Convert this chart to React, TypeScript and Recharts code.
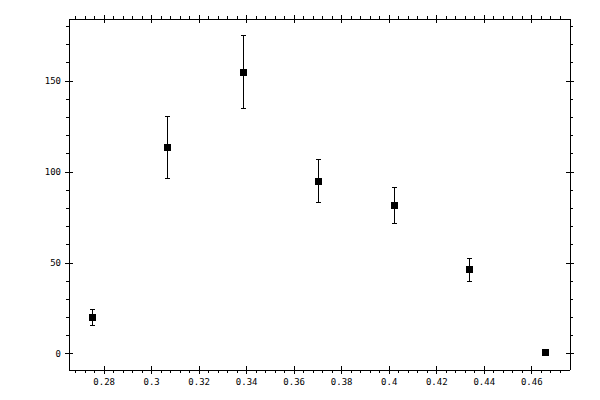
import React from "react";
import { ScatterChart, Scatter, XAxis, YAxis, ErrorBar } from "recharts";

const xValues = [0.275, 0.3068, 0.3386, 0.3704, 0.4022, 0.434, 0.4658];
const yValues = [20.1, 113.6, 154.8, 94.9, 81.7, 46.4, 0.8];
const yErrors = [4.4, 17.0, 20.0, 11.8, 9.9, 6.3, 0];

const xMajorTicks = [0.28, 0.3, 0.32, 0.34, 0.36, 0.38, 0.4, 0.42, 0.44, 0.46];
const xMinorTicks = [
  0.268, 0.272, 0.276, 0.284, 0.288, 0.292, 0.296, 0.304, 0.308, 0.312, 0.316,
  0.324, 0.328, 0.332, 0.336, 0.344, 0.348, 0.352, 0.356, 0.364, 0.368, 0.372,
  0.376, 0.384, 0.388, 0.392, 0.396, 0.404, 0.408, 0.412, 0.416, 0.424, 0.428,
  0.432, 0.436, 0.444, 0.448, 0.452, 0.456, 0.464, 0.468, 0.472,
];
const xTickLabels = ["0.28", "0.3", "0.32", "0.34", "0.36", "0.38", "0.4", "0.42", "0.44", "0.46"];
const yMajorTicks = [0, 50, 100, 150];
const yMinorTicks = [10, 20, 30, 40, 60, 70, 80, 90, 110, 120, 130, 140, 160, 170, 180];
const yTickLabels = ["0", "50", "100", "150"];

const X_DOMAIN: [number, number] = [0.2652, 0.4761];
const Y_DOMAIN: [number, number] = [-8.8, 184.1];

const data = xValues.map((x, i) => ({ x, y: yValues[i], err: yErrors[i] }));
const xTicks = [...xMajorTicks, ...xMinorTicks].sort((a, b) => a - b);
const yTicks = [...yMajorTicks, ...yMinorTicks].sort((a, b) => a - b);

const FONT = "'DejaVu Sans Mono', monospace";

const isMajor = (arr: number[], v: number) => arr.some((m) => Math.abs(m - v) < 1e-9);

const XTick = (side: "bottom" | "top") => (props: any) => {
  const { x, y, payload } = props;
  const v = payload.value;
  const major = isMajor(xMajorTicks, v);
  const dir = side === "bottom" ? 1 : -1;
  const idx = xMajorTicks.findIndex((m) => Math.abs(m - v) < 1e-9);
  return (
    <g>
      {major ? (
        <line x1={x} x2={x} y1={y - 4} y2={y + 4} stroke="#000" shapeRendering="crispEdges" />
      ) : (
        <line x1={x} x2={x} y1={y} y2={y + dir * 3} stroke="#000" shapeRendering="crispEdges" />
      )}
      {major && side === "bottom" ? (
        <text x={x} y={y + 15} textAnchor="middle" fontSize={9} fontFamily={FONT} fill="#000">
          {xTickLabels[idx]}
        </text>
      ) : null}
    </g>
  );
};

const YTick = (side: "left" | "right") => (props: any) => {
  const { x, y, payload } = props;
  const v = payload.value;
  const major = isMajor(yMajorTicks, v);
  const dir = side === "left" ? -1 : 1;
  const idx = yMajorTicks.findIndex((m) => Math.abs(m - v) < 1e-9);
  return (
    <g>
      {major ? (
        <line x1={x - 4} x2={x + 4} y1={y} y2={y} stroke="#000" shapeRendering="crispEdges" />
      ) : (
        <line x1={x} x2={x + dir * 3} y1={y} y2={y} stroke="#000" shapeRendering="crispEdges" />
      )}
      {major && side === "left" ? (
        <text x={x - 8} y={y + 3} textAnchor="end" fontSize={9} fontFamily={FONT} fill="#000">
          {yTickLabels[idx]}
        </text>
      ) : null}
    </g>
  );
};

const SquareShape = (props: any) => {
  const { cx, cy } = props;
  if (cx == null || cy == null) return null;
  return <rect x={cx - 3.5} y={cy - 3.5} width={7} height={7} fill="#000" shapeRendering="crispEdges" />;
};

const NoShape = () => <g />;

const axisCommon = {
  type: "number" as const,
  allowDataOverflow: true,
  interval: 0 as const,
  tickLine: false,
  tickSize: 0,
  tickMargin: 0,
  axisLine: { stroke: "#000", shapeRendering: "crispEdges" },
};

export default function App() {
  return (
    <div style={{ position: "absolute", left: 0, top: 0, width: 600, height: 400, background: "#fff" }}>
      <ScatterChart width={600} height={400} margin={{ top: 18, right: 29, bottom: 0, left: 9 }}>
        <XAxis
          {...axisCommon}
          xAxisId="b"
          dataKey="x"
          domain={X_DOMAIN}
          ticks={xTicks}
          tick={XTick("bottom")}
          height={30}
          orientation="bottom"
        />
        <XAxis
          {...axisCommon}
          xAxisId="t"
          dataKey="x"
          domain={X_DOMAIN}
          ticks={xTicks}
          tick={XTick("top")}
          height={1}
          orientation="top"
        />
        <YAxis
          {...axisCommon}
          yAxisId="l"
          dataKey="y"
          domain={Y_DOMAIN}
          ticks={yTicks}
          tick={YTick("left")}
          width={60}
          orientation="left"
        />
        <YAxis
          {...axisCommon}
          yAxisId="r"
          dataKey="y"
          domain={Y_DOMAIN}
          ticks={yTicks}
          tick={YTick("right")}
          width={1}
          orientation="right"
        />
        <Scatter data={data} xAxisId="t" yAxisId="r" shape={NoShape} isAnimationActive={false} />
        <Scatter
          data={data}
          xAxisId="b"
          yAxisId="l"
          shape={SquareShape}
          isAnimationActive={false}
        >
          <ErrorBar
            dataKey="err"
            direction="y"
            width={2.5}
            stroke="#000"
            strokeWidth={1}
            shapeRendering="crispEdges"
            isAnimationActive={false}
          />
        </Scatter>
      </ScatterChart>
    </div>
  );
}
